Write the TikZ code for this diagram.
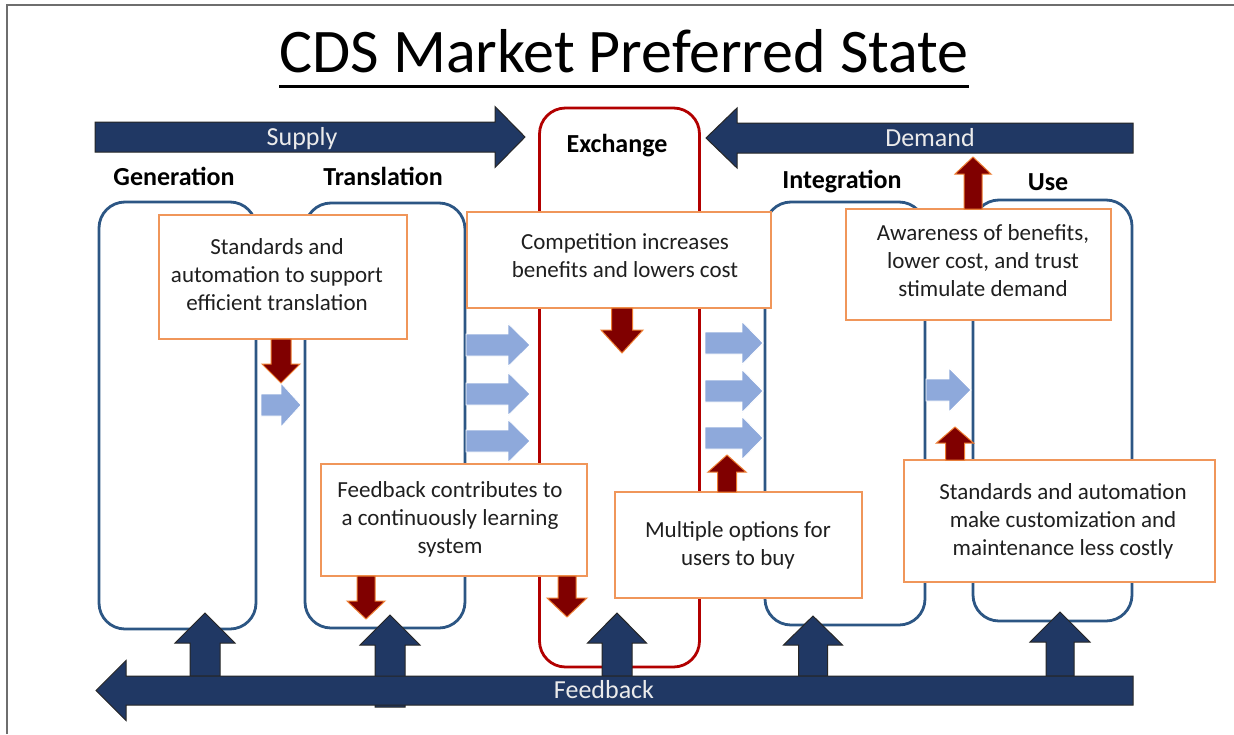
\documentclass[tikz,border=0pt]{standalone}
\usepackage{fontspec}
\setmainfont{Carlito}
\definecolor{navy}{RGB}{32,56,100}
\definecolor{stageblue}{RGB}{44,86,132}
\definecolor{exred}{RGB}{178,0,0}
\definecolor{noteorange}{RGB}{240,150,90}
\definecolor{flowblue}{RGB}{142,169,219}
\definecolor{darkred}{RGB}{128,0,0}
\definecolor{arroworange}{RGB}{237,125,49}
\definecolor{slidegray}{RGB}{110,110,110}

% horizontal block arrow: style, tail x, tip x, centre y, body half-height, head half-height, head base x
\newcommand{\HArrow}[7]{%
  \filldraw[#1] (#2,#4-#5) -- (#7,#4-#5) -- (#7,#4-#6) -- (#3,#4)
    -- (#7,#4+#6) -- (#7,#4+#5) -- (#2,#4+#5) -- cycle;}
% vertical block arrow: style, centre x, tail y, tip y, body half-width, head half-width, head base y
\newcommand{\VArrow}[7]{%
  \filldraw[#1] (#2-#5,#3) -- (#2-#5,#7) -- (#2-#6,#7) -- (#2,#4)
    -- (#2+#6,#7) -- (#2+#5,#7) -- (#2+#5,#3) -- cycle;}

\begin{document}
\begin{tikzpicture}[x=1pt,y=-1pt,
  stage/.style={draw=stageblue, line width=2.8pt, rounded corners=26pt, inner sep=0pt},
  exstage/.style={stage, draw=exred},
  note/.style={draw=noteorange, line width=1.5pt, fill=white, inner sep=0pt},
  notetext/.style={align=center, inner sep=0pt, text=black!88, font=\fontsize{23}{28}\selectfont},
  stagelabel/.style={anchor=base, inner sep=0pt, text=black, font=\bfseries\fontsize{26}{30}\selectfont},
  barlabel/.style={anchor=base, inner sep=0pt, text=white!92!black, font=\fontsize{26}{30}\selectfont},
  navyarrow/.style={fill=navy, draw=black!85, line width=1pt},
  redarrow/.style={fill=darkred, draw=arroworange, line width=1pt},
  flowarrow/.style={fill=flowblue, draw=white, line width=0.8pt},
]
\useasboundingbox (0,0) rectangle (1234,734);
\fill[white] (0,0) rectangle (1234,734);
\draw[slidegray, line width=1.2pt] (7,734) -- (7,5) -- (1234,5);

% title
\node[anchor=base, inner sep=0pt, font=\fontsize{62}{70}\selectfont] (title) at (624,72) {CDS Market Preferred State};
\draw[line width=3pt] ([yshift=-14pt]title.base west) -- ([yshift=-14pt]title.base east);

% supply and demand bars
\HArrow{navyarrow}{95}{525}{137}{15}{30.5}{495}
\node[barlabel] (supply) at (302,145) {Supply};
\HArrow{navyarrow}{1133}{706}{138}{15}{30}{737}
\node[barlabel] (demand) at (930,146) {Demand};

% value-chain stages
\node[stage, minimum width=157pt, minimum height=427pt] (gen) at (177.5,415.5) {};
\node[stage, minimum width=160pt, minimum height=425pt] (trans) at (385,415.5) {};
\node[exstage, minimum width=160pt, minimum height=559pt] (exch) at (619.5,387.5) {};
\node[stage, minimum width=160pt, minimum height=423pt] (integ) at (845,413.5) {};
\node[stage, minimum width=159pt, minimum height=421pt] (use) at (1052.5,410.5) {};

\node[stagelabel] (genlab) at (174,185) {Generation};
\node[stagelabel] (translab) at (383,185) {Translation};
\node[stagelabel] (exchlab) at (617,152) {Exchange};
\node[stagelabel] (integlab) at (842,188) {Integration};
\node[stagelabel] (uselab) at (1048,190) {Use};

% flow between stages
\HArrow{flowarrow}{261}{301}{405}{11}{22}{281}
\HArrow{flowarrow}{466}{530}{345}{11}{21.5}{508}
\HArrow{flowarrow}{466}{530}{394}{11}{21.5}{508}
\HArrow{flowarrow}{466}{530}{441}{11}{21.5}{508}
\HArrow{flowarrow}{705}{763}{343}{11}{21.5}{742}
\HArrow{flowarrow}{705}{763}{391}{11}{21.5}{742}
\HArrow{flowarrow}{705}{763}{438}{11}{21.5}{742}
\HArrow{flowarrow}{926}{971}{390}{11}{22}{949}

% notes
\node[note, minimum width=248pt, minimum height=124pt] (n1) at (283,277) {};
\node[notetext] (t1) at (277,275) {Standards and\\automation to support\\efficient translation};
\node[note, minimum width=304pt, minimum height=96pt] (n2) at (619,260) {};
\node[notetext] (t2) at (625,256) {Competition increases\\benefits and lowers cost};
\node[note, minimum width=265pt, minimum height=111pt] (n3) at (978.5,264.5) {};
\node[notetext] (t3) at (983,261) {Awareness of benefits,\\lower cost, and trust\\stimulate demand};
\node[note, minimum width=266pt, minimum height=112pt] (n4) at (454,520) {};
\node[notetext] (t4) at (450,519) {Feedback contributes to\\a continuously learning\\system};
\node[note, minimum width=247pt, minimum height=106pt] (n5) at (738.5,545) {};
\node[notetext] (t5) at (738,545) {Multiple options for\\users to buy};
\node[note, minimum width=311pt, minimum height=122pt] (n6) at (1059.5,521) {};
\node[notetext] (t6) at (1063,521) {Standards and automation\\make customization and\\maintenance less costly};

% effects of the notes
\VArrow{redarrow}{281}{339}{383}{10}{19}{364}
\VArrow{redarrow}{622}{308}{353}{10.5}{21}{330}
\VArrow{redarrow}{366}{576}{619}{9}{19}{601}
\VArrow{redarrow}{567}{576}{617}{9}{20}{598}
\VArrow{redarrow}{727}{492}{455}{9.5}{19}{472}
\VArrow{redarrow}{955}{460}{427}{9.5}{18.5}{443}
\VArrow{redarrow}{973}{209}{157}{9}{18}{174}

% feedback to every stage
\VArrow{navyarrow}{205}{676}{613}{15}{30}{643}
\VArrow{navyarrow}{390}{707}{615}{15}{30}{645}
\VArrow{navyarrow}{617}{676}{613}{15}{29.5}{643}
\VArrow{navyarrow}{813}{676}{616}{14.5}{29.5}{645}
\VArrow{navyarrow}{1060}{676}{612}{14}{30}{642}
\HArrow{navyarrow}{1133}{96}{690.5}{14.5}{30}{126}
\node[barlabel] (feedback) at (604,698) {Feedback};
\end{tikzpicture}
\end{document}
